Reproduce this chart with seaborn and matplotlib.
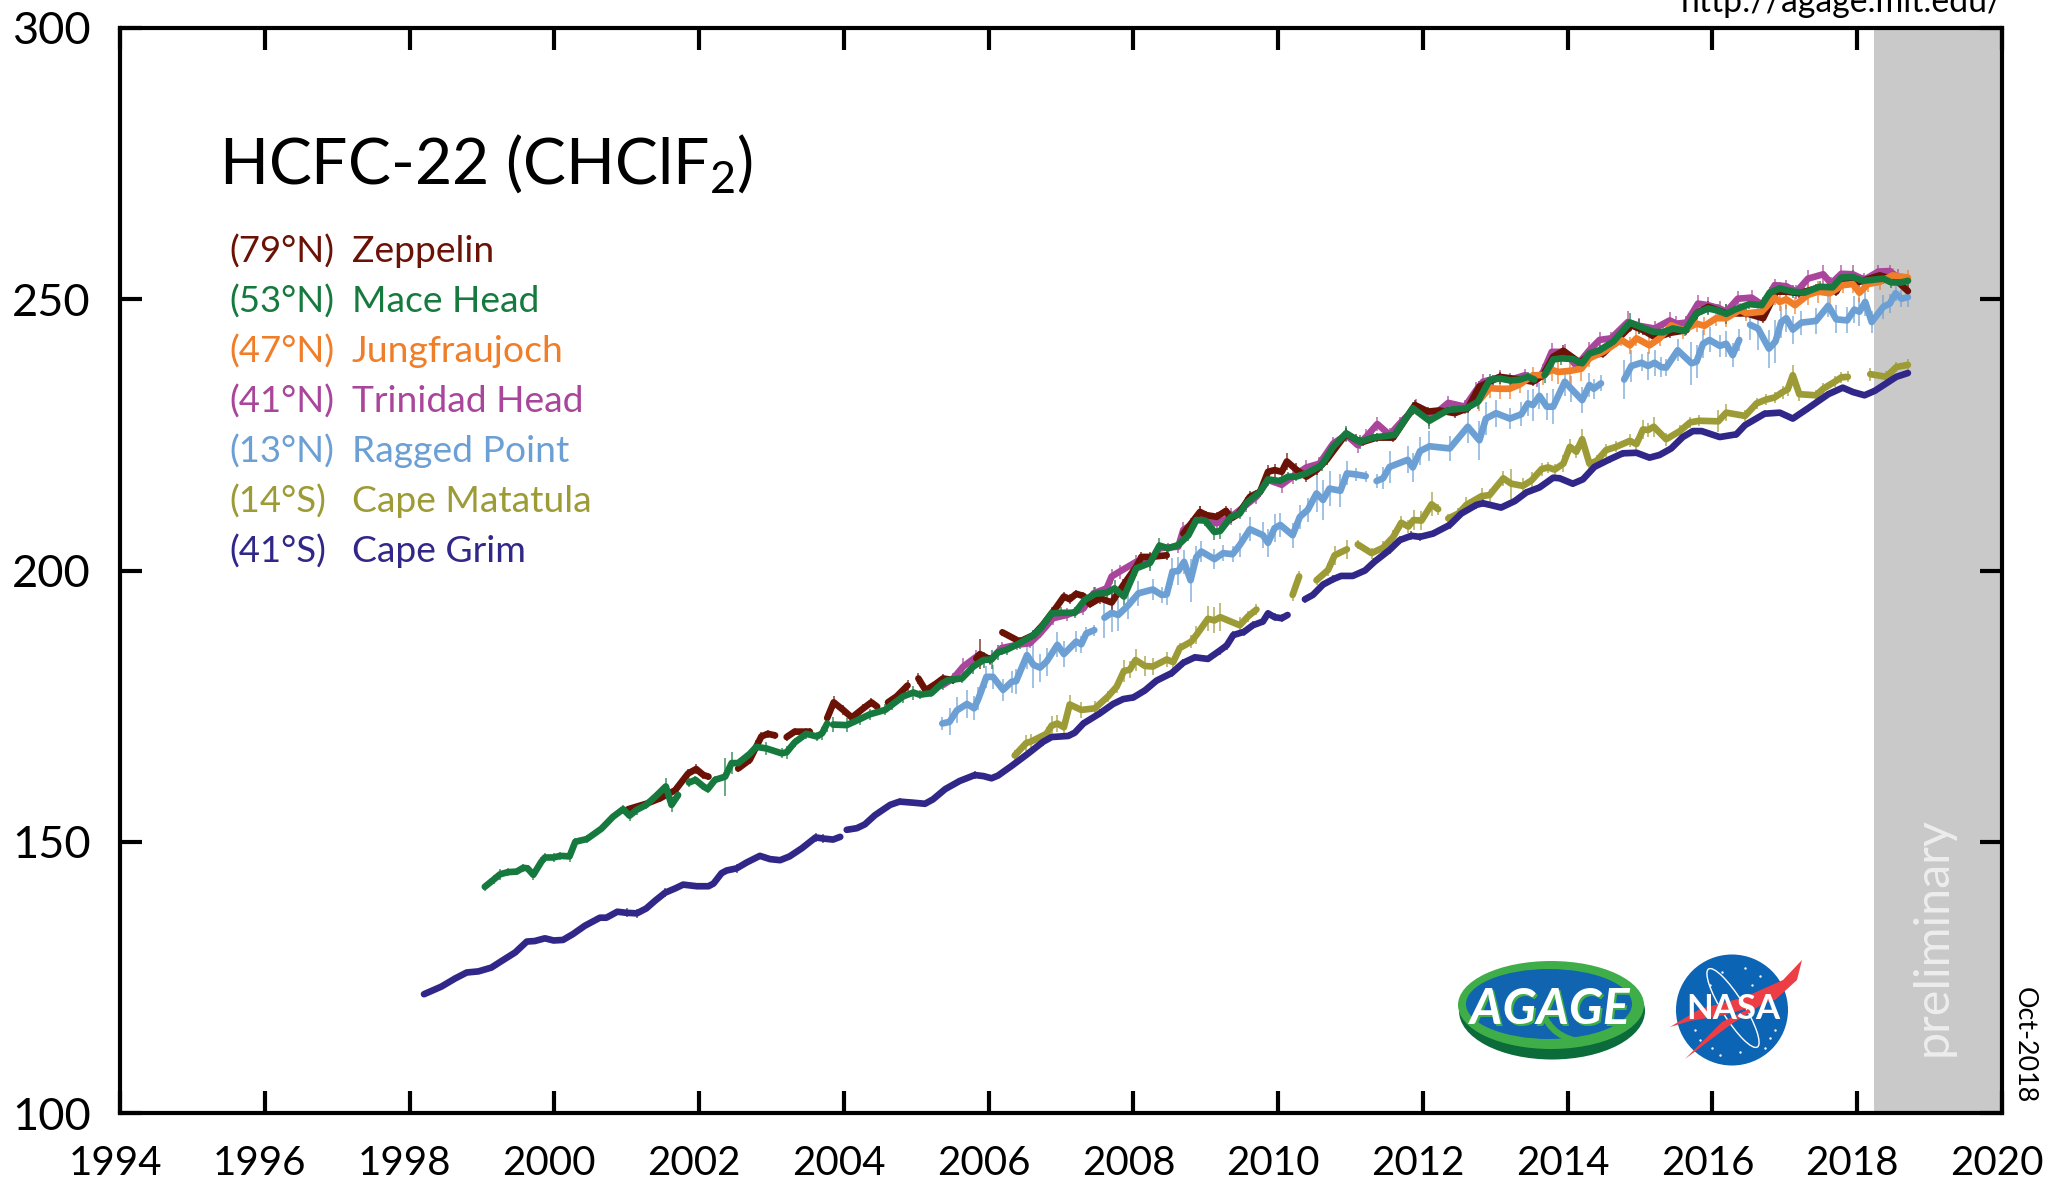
import numpy as np
import pandas as pd
import matplotlib.pyplot as plt
import seaborn as sns
from matplotlib.patches import Ellipse, Polygon, PathPatch
from matplotlib.path import Path
from matplotlib.transforms import ScaledTranslation

nan = np.nan

stations = ['Zeppelin', 'Mace Head', 'Jungfraujoch', 'Trinidad Head', 'Ragged Point', 'Cape Matatula', 'Cape Grim']
latitudes = ['(79°N)', '(53°N)', '(47°N)', '(41°N)', '(13°N)', '(14°S)', '(41°S)']
station_colors = ['#6B1206', '#167A3E', '#F07D28', '#A9459B', '#6CA0D4', '#9C9B35', '#312788']
x_ticks = [1994, 1996, 1998, 2000, 2002, 2004, 2006, 2008, 2010, 2012, 2014, 2016, 2018, 2020]
y_ticks = [100, 150, 200, 250, 300]
prelim_start = 2018.23

grim_years = [1998.2, 1998.44, 1998.63, 1998.79, 1998.95, 1999.13, 1999.27, 1999.46, 1999.62, 1999.73,
              1999.87, 1999.99, 2000.12, 2000.26, 2000.42, 2000.63, 2000.72, 2000.87, 2001.0, 2001.14,
              2001.27, 2001.39, 2001.53, 2001.67, 2001.78, 2001.97, 2002.13, 2002.2, 2002.31, 2002.38,
              2002.52, 2002.66, 2002.84, 2002.98, 2003.12, 2003.25, 2003.42, 2003.61, 2003.71, 2003.85,
              2003.95, nan, 2004.04, 2004.18, 2004.29, 2004.43, 2004.64, 2004.77, 2004.96, 2005.12,
              2005.23, 2005.4, 2005.6, 2005.81, 2005.93, 2006.04, 2006.13, 2006.32, 2006.55, 2006.75,
              2006.87, 2007.1, 2007.19, 2007.31, 2007.54, 2007.72, 2007.86, 2008.0, 2008.16, 2008.32,
              2008.53, 2008.69, 2008.85, 2009.03, 2009.19, 2009.29, 2009.38, 2009.53, 2009.65, 2009.79,
              2009.86, 2009.95, 2010.05, 2010.13, nan, 2010.37, 2010.48, 2010.62, 2010.76, 2010.87,
              2011.03, 2011.2, 2011.33, 2011.54, 2011.68, 2011.84, 2011.96, 2012.14, 2012.37, 2012.53,
              2012.74, 2012.83, 2013.08, 2013.27, 2013.43, 2013.61, 2013.8, 2013.89, 2014.07, 2014.21,
              2014.37, 2014.58, 2014.76, 2014.95, 2015.13, 2015.27, 2015.43, 2015.59, 2015.73, 2015.85,
              2016.1, 2016.33, 2016.45, 2016.72, 2016.93, 2017.11, 2017.32, 2017.6, 2017.8, 2017.94,
              2018.1, 2018.24, 2018.54, 2018.7]
grim_vals = [121.9, 123.3, 124.8, 125.9, 126.1, 126.8, 128.0, 129.6, 131.6, 131.7,
             132.2, 131.8, 131.9, 133.0, 134.5, 136.0, 136.0, 137.1, 136.9, 136.8,
             137.7, 139.1, 140.6, 141.4, 142.1, 141.8, 141.8, 142.3, 144.2, 144.7,
             145.1, 146.2, 147.4, 146.8, 146.6, 147.3, 148.8, 150.8, 150.6, 150.4,
             150.9, nan, 152.2, 152.5, 153.2, 154.9, 156.8, 157.4, 157.2, 157.0,
             157.8, 159.7, 161.2, 162.3, 162.1, 161.7, 162.2, 164.0, 166.3, 168.4,
             169.3, 169.5, 170.1, 171.8, 173.7, 175.4, 176.3, 176.6, 177.9, 179.7,
             181.1, 183.0, 184.0, 183.7, 185.2, 186.2, 188.1, 188.7, 189.9, 190.6,
             192.1, 191.4, 191.2, 191.8, nan, 194.7, 195.5, 197.4, 198.4, 199.0,
             199.0, 200.0, 201.6, 203.8, 205.6, 206.4, 206.2, 206.8, 208.4, 210.5,
             212.1, 212.4, 211.6, 212.8, 214.4, 215.3, 217.1, 217.0, 216.0, 216.8,
             219.1, 220.5, 221.6, 221.7, 220.8, 221.3, 222.5, 224.6, 225.7, 225.7,
             224.6, 225.1, 226.8, 228.9, 229.1, 228.0, 229.9, 232.5, 233.7, 232.9,
             232.3, 233.1, 235.7, 236.4]
grim_errs = [.4, .4, .4, .3, .3, .4, .4, .5, .4, .3,
             .4, .4, .3, .4, .4, .5, .4, .4, .8, .8,
             .5, .5, .8, .5, .5, .4, .4, .4, .5, .5,
             .8, .5, .4, .4, .4, .5, .5, .8, .8, .5,
             .4, nan, .4, .5, .4, .5, .5, .6, .5, .4,
             .5, .6, .6, .7, .5, .5, .5, .6, .6, .7,
             .6, .6, .5, .6, .7, .6, .6, .6, .7, .6,
             .7, .7, .6, .5, .7, .8, .7, .7, .7, .7,
             .6, .7, .7, .6, nan, .6, .6, .7, .7, .6,
             .6, .6, .7, .8, .7, .8, .7, .7, .8, .7,
             .7, .7, .5, .5, .6, .6, .5, .5, .6, .5,
             .6, .6, .6, .5, .5, .6, .5, .6, .6, .6,
             .6, .6, .6, .6, .5, .5, .6, .6, .5, .5,
             .5, .5, .5, .5]

mace_years = [1999.04, 1999.16, 1999.25, 1999.36, 1999.48, 1999.57, 1999.63, 1999.71, 1999.82, 1999.87,
              1999.99, 2000.08, 2000.21, 2000.29, 2000.45, 2000.65, 2000.81, 2000.95, 2001.04, 2001.14,
              2001.27, 2001.41, 2001.54, 2001.62, 2001.71, nan, 2001.86, 2001.95, 2002.06, 2002.12,
              2002.22, 2002.36, 2002.45, 2002.54, 2002.7, 2002.79, 2002.93, 2003.14, 2003.21, 2003.32,
              2003.48, 2003.63, 2003.7, 2003.77, nan, 2003.85, 2004.04, 2004.22, 2004.36, 2004.57,
              2004.66, 2004.82, 2004.96, 2005.05, 2005.21, 2005.35, 2005.44, 2005.63, 2005.79, 2005.93,
              2006.04, 2006.13, 2006.25, 2006.43, 2006.62, 2006.71, 2006.87, 2007.0, 2007.19, 2007.33,
              2007.47, 2007.63, 2007.74, 2007.87, 2008.04, 2008.23, 2008.36, 2008.48, 2008.62, 2008.76,
              2008.87, 2008.99, 2009.12, 2009.2, 2009.35, 2009.47, 2009.56, 2009.75, 2009.86, 2010.02,
              2010.14, 2010.25, 2010.39, 2010.6, 2010.76, 2010.94, 2011.13, 2011.31, 2011.61, 2011.86,
              2012.09, 2012.35, 2012.6, 2012.76, 2012.92, 2013.06, 2013.22, 2013.34, 2013.45, 2013.54,
              nan, 2013.68, 2013.8, 2013.91, 2014.07, 2014.2, 2014.3, 2014.44, 2014.63, 2014.86,
              2014.99, 2015.18, 2015.32, 2015.45, 2015.62, 2015.78, 2015.94, 2016.08, 2016.19, 2016.31,
              2016.51, 2016.68, 2016.79, 2016.93, 2017.11, 2017.27, 2017.48, 2017.66, 2017.78, 2017.94,
              2018.08, 2018.36, 2018.47, 2018.61, 2018.7]
mace_vals = [141.7, 143.0, 144.0, 144.4, 144.5, 145.2, 145.1, 143.9, 146.3, 147.1,
             147.1, 147.4, 147.3, 150.0, 150.5, 152.4, 154.6, 156.0, 154.8, 155.9,
             156.8, 158.5, 160.2, 156.8, 158.6, nan, 160.9, 161.4, 160.2, 159.7,
             161.4, 162.0, 164.5, 164.5, 166.2, 167.5, 167.2, 166.3, 166.5, 168.3,
             169.9, 169.4, 170.0, 171.8, nan, 171.6, 171.5, 172.6, 173.5, 174.3,
             175.2, 176.8, 177.5, 177.1, 177.4, 179.1, 179.8, 180.1, 182.3, 183.5,
             183.6, 184.9, 185.4, 186.6, 188.1, 189.2, 192.1, 192.2, 192.2, 194.6,
             195.7, 195.9, 196.7, 195.2, 200.4, 201.4, 204.6, 204.1, 204.7, 206.5,
             209.3, 209.2, 207.1, 207.3, 209.9, 210.5, 212.4, 214.5, 216.8, 216.5,
             217.3, 217.3, 217.9, 219.4, 222.8, 225.3, 223.7, 224.5, 225.0, 229.9,
             227.6, 229.6, 229.9, 231.1, 235.1, 235.4, 235.0, 235.2, 235.7, 235.2,
             nan, 236.0, 238.9, 239.1, 239.0, 238.2, 240.0, 240.6, 242.2, 245.7,
             245.0, 244.0, 243.9, 244.6, 244.2, 247.4, 248.3, 247.9, 247.3, 248.1,
             249.1, 248.9, 251.2, 252.0, 251.4, 251.2, 252.3, 252.2, 254.0, 254.1,
             253.4, 253.8, 253.1, 253.1, 253.4]
mace_errs = [.7, .8, 1.0, .8, .6, .7, .6, .9, .8, .8,
             .8, .7, 1.0, .6, .7, .6, .6, .8, .9, .9,
             .7, .7, 1.5, 1.3, .8, nan, .8, .7, .7, .8,
             .8, 3.5, 2.0, .6, .7, 1.2, 1.2, .9, 1.2, .9,
             1.0, .9, 1.2, 1.6, nan, 1.4, 1.3, 1.1, 1.0, 1.0,
             1.0, 1.2, 1.3, .8, .8, .9, .8, .9, 1.4, 1.5,
             1.7, 1.4, 1.0, 1.0, .9, .9, 1.2, 1.0, 1.0, 1.0,
             1.3, 1.3, 1.5, 1.6, 1.4, 1.4, 1.3, 1.0, 1.0, 1.0,
             1.0, 1.0, 1.5, 1.5, 1.0, 1.0, 1.2, 1.0, 1.0, .8,
             .8, .8, 1.0, 1.0, 1.2, 1.4, 1.3, .9, 1.0, 1.2,
             1.5, .9, .9, 1.4, 1.2, 1.0, 1.0, 1.0, .8, .9,
             nan, 1.5, 1.3, 1.2, .9, .9, 1.0, 1.0, 1.0, 1.8,
             1.4, 1.0, 1.0, 1.0, 1.0, 1.1, 1.2, 1.2, 1.8, 1.0,
             .9, .9, 1.1, 1.1, 1.2, 1.0, 1.0, 1.0, 1.2, 1.3,
             1.0, 1.0, 1.0, .9, .9]

zep_years = [2001.02, 2001.27, 2001.46, 2001.67, 2001.85, 2001.96, 2002.06, 2002.13, nan, 2002.54,
             2002.7, 2002.86, 2002.95, 2003.05, nan, 2003.21, 2003.32, 2003.53, nan, 2003.77,
             2003.86, 2003.99, 2004.11, 2004.27, 2004.38, 2004.46, nan, 2004.61, 2004.73, 2004.88,
             nan, 2005.03, 2005.13, 2005.28, 2005.37, 2005.51, nan, 2005.83, 2005.88, 2006.02,
             nan, 2006.19, 2006.43, 2006.62, 2006.75, 2006.94, 2007.04, 2007.12, 2007.21, 2007.31,
             2007.4, 2007.54, 2007.7, 2007.86, 2008.04, 2008.11, 2008.23, 2008.46, nan, 2008.69,
             2008.92, 2009.01, 2009.15, 2009.28, 2009.35, 2009.45, 2009.61, 2009.75, 2009.86, 2009.95,
             2010.05, 2010.12, 2010.25, 2010.39, 2010.53, 2010.67, 2010.94, 2011.08, 2011.17, 2011.36,
             2011.59, 2011.89, 2012.07, 2012.23, 2012.44, 2012.62, 2012.78, 2012.97, 2013.06, 2013.34,
             2013.52, 2013.66, 2013.8, 2013.94, 2014.17, 2014.3, 2014.49, 2014.77, 2014.88, 2015.04,
             2015.22, 2015.41, 2015.64, 2015.78, 2015.94, 2016.19, 2016.47, 2016.7, 2016.88, 2017.02,
             2017.2, 2017.43, 2017.71, 2017.8, 2018.03, 2018.31, 2018.54, 2018.7]
zep_vals = [156.0, 157.0, 158.0, 159.5, 162.6, 163.4, 162.3, 162.0, nan, 163.5,
            165.1, 169.4, 169.9, 169.6, nan, 169.3, 170.3, 170.3, nan, 172.8,
            175.7, 174.3, 172.9, 174.6, 175.7, 174.9, nan, 175.7, 176.8, 178.8,
            nan, 180.1, 177.9, 179.2, 180.1, 179.8, nan, 183.8, 184.6, 183.6,
            nan, 188.6, 186.9, 188.1, 190.0, 193.3, 195.2, 194.7, 195.7, 195.3,
            193.8, 194.9, 194.1, 197.3, 200.7, 202.5, 202.5, 202.8, nan, 206.8,
            210.8, 210.2, 209.9, 211.0, 209.6, 210.4, 213.6, 214.5, 218.2, 218.5,
            218.2, 220.1, 218.6, 217.3, 218.5, 220.4, 225.2, 224.1, 223.7, 224.5,
            224.5, 230.5, 229.3, 229.5, 229.0, 229.9, 233.9, 235.1, 235.7, 235.2,
            234.8, 236.0, 239.4, 240.5, 238.3, 239.7, 240.0, 243.7, 245.2, 244.3,
            242.9, 243.8, 244.3, 247.4, 248.6, 247.4, 247.4, 246.5, 251.4, 251.4,
            251.1, 252.0, 251.4, 253.5, 253.2, 254.4, 253.5, 251.5]
zep_errs = [.6, .6, .6, .7, .8, .9, .7, .6, nan, .7,
            .7, .8, .7, .6, nan, .8, .7, .7, nan, .8,
            1.2, .9, .8, .7, .8, .7, nan, .7, .7, 1.0,
            nan, 1.0, .7, .7, .8, .7, nan, 1.0, 2.8, .8,
            nan, .7, .8, .8, .7, .8, .8, .9, .7, .7,
            .8, 1.0, 1.8, 1.2, .9, .9, .9, .8, nan, .8,
            1.0, .8, .9, .9, .8, .8, 1.0, .9, 1.2, 1.2,
            1.2, 1.6, 1.2, 1.0, .9, .9, 1.0, 1.0, .8, .9,
            .9, 1.0, .9, .9, .9, .9, 1.0, 1.0, .8, .8,
            .8, .8, 1.0, 1.0, .8, .8, .8, 1.0, 1.0, .8,
            .8, .9, .8, .9, 1.0, .8, .8, .9, 1.0, 1.0,
            .8, .8, .8, 1.0, .9, .9, .9, .9]

jung_years = [2012.78, 2012.92, 2013.06, 2013.2, 2013.34, 2013.52, 2013.66, 2013.78, 2013.87, 2014.03,
              2014.19, 2014.3, 2014.49, 2014.74, 2014.86, 2014.95, 2015.13, 2015.27, 2015.43, 2015.59,
              2015.78, 2015.89, 2016.05, 2016.19, 2016.38, 2016.47, 2016.68, 2016.86, 2016.93, 2017.02,
              2017.14, 2017.32, 2017.46, 2017.62, 2017.8, 2017.94, 2018.03, 2018.15, 2018.31, 2018.49,
              2018.7]
jung_vals = [231.4, 233.6, 233.5, 233.5, 234.3, 236.0, 236.0, 237.0, 236.6, 236.8,
             237.2, 239.1, 240.3, 242.5, 241.5, 242.8, 241.5, 242.8, 245.2, 244.3,
             245.5, 245.1, 246.5, 246.5, 248.0, 247.4, 247.7, 250.3, 249.5, 250.0,
             248.9, 250.8, 251.4, 251.1, 252.6, 252.8, 251.2, 252.8, 253.2, 254.4,
             254.0]
jung_errs = [2.0, 1.8, 1.8, 1.8, 1.5, 1.5, 1.8, 2.0, 2.2, 2.2,
             2.2, 1.5, 1.2, 1.2, 1.5, 1.5, 1.6, 1.5, 1.4, 1.6,
             1.5, 1.6, 1.4, 1.6, 1.3, 1.5, 1.3, 1.4, 1.6, 1.8,
             1.6, 1.8, 2.0, 1.8, 1.5, 1.6, 1.7, 1.5, 1.5, 1.4,
             1.3]

trin_years = [2005.37, 2005.51, 2005.65, 2005.83, 2006.02, 2006.18, 2006.39, 2006.57, 2006.71, 2006.89,
              2007.08, 2007.31, 2007.45, 2007.63, 2007.7, 2007.81, 2008.04, 2008.23, 2008.36, 2008.62,
              2008.69, 2008.8, 2008.92, 2009.15, 2009.35, 2009.56, 2009.7, 2009.86, 2010.05, 2010.2,
              2010.39, 2010.57, 2010.76, 2010.94, 2011.1, 2011.22, 2011.37, 2011.54, 2011.68, 2011.91,
              2012.09, 2012.35, 2012.58, 2012.74, 2012.83, 2013.06, 2013.2, 2013.41, 2013.57, 2013.66,
              2013.78, 2013.96, 2014.12, 2014.3, 2014.44, 2014.6, 2014.83, 2014.99, 2015.2, 2015.41,
              2015.5, 2015.64, 2015.8, 2015.94, 2016.1, 2016.19, 2016.35, 2016.54, 2016.7, 2016.86,
              2017.02, 2017.16, 2017.32, 2017.53, 2017.64, 2017.78, 2017.94, 2018.1, 2018.29, 2018.45,
              2018.56, 2018.7]
trin_vals = [178.9, 180.1, 182.3, 184.1, 183.5, 185.7, 186.3, 186.6, 188.4, 191.2,
             191.8, 193.0, 195.8, 196.7, 198.9, 199.8, 201.6, 201.6, 204.1, 204.4,
             207.5, 208.4, 210.5, 208.7, 209.9, 212.1, 213.6, 216.7, 215.8, 217.3,
             219.0, 219.7, 223.4, 225.0, 223.1, 224.7, 227.0, 225.0, 227.1, 230.2,
             228.0, 230.9, 230.2, 233.3, 234.8, 235.6, 235.1, 236.0, 235.1, 236.6,
             240.3, 240.3, 237.7, 240.6, 242.5, 242.8, 245.8, 245.1, 244.6, 246.1,
             245.5, 245.7, 249.2, 248.9, 248.3, 247.7, 250.1, 250.3, 248.9, 252.6,
             252.4, 251.4, 253.8, 254.6, 252.9, 254.7, 254.6, 253.6, 255.1, 255.2,
             254.0, 253.5]
trin_errs = [.9, 1.0, 1.6, 1.3, 1.0, 1.2, 1.0, .9, .9, 1.2,
             1.2, 1.2, 1.2, 1.2, 1.3, 1.3, 1.2, 1.2, 1.2, 1.2,
             1.4, 1.2, 1.3, 1.5, 1.6, 1.4, 1.3, 1.2, 1.5, 1.4,
             1.3, 1.3, 1.3, 1.3, 1.5, 1.3, 1.3, 1.2, 1.2, 1.4,
             1.4, 1.3, 1.3, 1.4, 1.4, 1.3, 1.3, 1.2, 1.2, 1.4,
             1.6, 1.4, 1.2, 1.5, 1.5, 1.2, 2.0, 1.5, 1.3, 1.5,
             1.4, 1.3, 1.6, 1.6, 1.3, 1.5, 1.5, 1.4, 1.6, 1.2,
             1.2, 1.3, 1.6, 1.8, 1.2, 1.6, 1.7, 1.2, 1.3, 1.2,
             1.5, 1.0]

ragged_years = [2005.36, 2005.46, 2005.56, 2005.7, 2005.8, 2005.86, 2005.97, 2006.06, 2006.2, 2006.32,
                2006.38, 2006.53, 2006.62, 2006.71, 2006.8, 2006.95, 2007.04, 2007.21, 2007.28, 2007.35,
                2007.46, nan, 2007.6, 2007.7, 2007.79, 2007.93, 2008.07, 2008.27, 2008.39, 2008.46,
                2008.54, 2008.62, 2008.7, 2008.79, 2008.87, 2008.94, 2009.12, 2009.24, 2009.37, 2009.47,
                2009.61, 2009.79, 2009.86, 2009.95, 2010.03, 2010.2, 2010.3, 2010.41, 2010.53, 2010.62,
                2010.71, 2010.86, 2010.95, 2011.08, 2011.21, nan, 2011.36, 2011.45, 2011.54, 2011.79,
                2011.86, 2011.96, 2012.09, 2012.37, 2012.62, 2012.78, 2012.87, 2013.01, 2013.2, 2013.36,
                2013.45, 2013.52, 2013.61, 2013.71, 2013.8, 2013.96, 2014.05, 2014.2, 2014.3, 2014.36,
                2014.46, nan, 2014.78, 2014.88, 2015.02, 2015.11, 2015.2, 2015.29, 2015.36, 2015.52,
                2015.71, 2015.78, 2015.87, 2015.96, 2016.1, 2016.19, 2016.28, 2016.37, nan, 2016.52,
                2016.63, 2016.78, 2016.87, 2016.95, 2017.02, 2017.11, 2017.23, 2017.43, 2017.6, 2017.71,
                2017.86, 2017.96, 2018.03, 2018.11, 2018.2, 2018.36, 2018.45, 2018.53, 2018.61, 2018.7]
ragged_vals = [171.8, 172.1, 174.2, 175.4, 174.6, 176.4, 180.4, 180.4, 178.0, 179.5,
               179.6, 184.4, 182.6, 182.1, 183.2, 186.3, 184.6, 186.9, 186.4, 188.4,
               189.0, nan, 191.3, 192.2, 191.8, 193.6, 195.8, 196.5, 195.5, 195.6,
               199.8, 199.9, 201.6, 198.2, 202.5, 203.5, 202.1, 203.2, 203.0, 204.7,
               207.6, 206.5, 205.1, 207.8, 208.4, 206.5, 209.9, 211.2, 214.2, 213.0,
               215.1, 214.7, 217.9, 217.7, 217.4, nan, 216.5, 217.0, 219.1, 220.4,
               219.0, 222.0, 222.9, 222.5, 226.5, 224.0, 228.0, 229.0, 228.0, 228.8,
               230.8, 230.5, 232.2, 230.2, 230.2, 234.8, 233.5, 231.4, 234.2, 233.5,
               234.5, nan, 235.2, 237.7, 238.3, 237.7, 238.3, 237.5, 237.4, 240.6,
               238.2, 238.5, 241.8, 242.5, 241.4, 241.8, 239.7, 242.5, nan, 245.3,
               244.6, 240.9, 242.2, 245.8, 246.5, 244.4, 245.7, 246.0, 248.8, 246.3,
               246.1, 248.1, 247.7, 249.5, 245.8, 248.6, 249.2, 251.1, 250.1, 250.4]
ragged_errs = [1.2, 2.5, 2.4, 2.5, 2.2, 2.2, 2.0, 2.2, 2.0, 2.0,
               2.3, 2.5, 4.3, 2.6, 2.6, 2.3, 2.4, 2.0, 1.6, 1.2,
               1.0, nan, 3.8, 3.5, 2.9, 2.5, 2.3, 2.0, 1.5, 2.0,
               2.5, 2.6, 2.2, 4.0, 2.0, 2.0, 1.8, 1.5, 1.5, 2.2,
               2.2, 2.4, 2.6, 2.6, 2.2, 2.3, 2.2, 2.2, 3.5, 3.6,
               3.2, 3.0, 2.2, 1.2, 1.0, nan, 1.3, 2.0, 3.0, 2.5,
               2.6, 2.6, 2.8, 2.3, 3.0, 3.6, 3.0, 2.5, 2.0, 2.2,
               2.4, 3.0, 2.4, 2.5, 3.2, 2.6, 2.4, 2.4, 2.2, 1.8,
               1.5, nan, 3.6, 3.0, 1.6, 2.5, 2.4, 1.8, 1.6, 2.0,
               4.0, 3.0, 2.6, 2.3, 2.0, 2.4, 2.2, 2.0, nan, 2.8,
               4.0, 3.5, 4.0, 3.0, 2.5, 2.6, 2.2, 2.4, 2.0, 2.6,
               2.4, 2.5, 2.6, 2.5, 2.0, 2.2, 1.8, 1.4, 1.6, 1.8]

matatula_years = [2006.36, 2006.52, 2006.59, 2006.8, 2006.87, 2006.95, 2007.04, 2007.12, 2007.28, 2007.47,
                  2007.65, 2007.77, 2007.87, 2007.95, 2008.03, 2008.16, 2008.27, 2008.46, 2008.55, 2008.64,
                  2008.8, 2008.87, 2009.03, 2009.12, 2009.2, 2009.47, 2009.58, 2009.7, nan, 2010.2,
                  2010.29, nan, 2010.53, 2010.69, 2010.78, 2010.95, nan, 2011.1, 2011.29, 2011.45,
                  2011.59, 2011.7, 2011.8, 2011.87, 2011.98, 2012.12, 2012.21, nan, 2012.35, 2012.49,
                  2012.6, 2012.81, 2012.92, 2013.11, 2013.22, 2013.38, 2013.5, 2013.64, 2013.73, 2013.82,
                  2013.94, 2014.03, 2014.12, 2014.2, 2014.3, 2014.4, 2014.53, 2014.67, 2014.86, 2014.95,
                  2015.04, 2015.11, 2015.19, 2015.36, 2015.55, 2015.69, 2015.82, 2016.08, 2016.19, 2016.45,
                  2016.61, 2016.74, 2016.86, 2016.97, 2017.04, 2017.11, 2017.2, 2017.43, 2017.53, 2017.69,
                  2017.78, 2017.87, nan, 2018.18, 2018.4, 2018.54, 2018.7]
matatula_vals = [165.9, 168.2, 168.5, 169.9, 171.4, 171.8, 171.1, 175.3, 174.3, 174.6,
                 176.8, 178.6, 181.5, 181.7, 183.5, 182.4, 182.3, 183.6, 183.1, 185.7,
                 186.9, 188.1, 191.1, 190.8, 191.4, 189.9, 191.5, 192.8, nan, 195.5,
                 198.9, nan, 198.2, 200.1, 202.8, 203.9, nan, 204.8, 203.2, 204.2,
                 206.2, 208.8, 208.1, 209.3, 209.2, 212.2, 211.3, nan, 209.6, 210.5,
                 212.1, 213.7, 213.9, 217.0, 216.0, 215.6, 216.6, 218.7, 219.0, 218.6,
                 219.7, 222.8, 221.9, 224.2, 219.7, 220.2, 222.2, 222.8, 223.9, 223.3,
                 226.0, 225.9, 226.5, 224.2, 225.7, 227.3, 227.6, 227.5, 229.1, 228.5,
                 230.8, 231.5, 231.9, 232.9, 233.4, 236.0, 232.5, 232.3, 233.5, 234.8,
                 235.6, 235.7, nan, 236.2, 235.7, 237.5, 237.9]
matatula_errs = [1.0, 1.5, 1.4, 1.2, 1.8, 1.6, 1.2, 1.8, 1.5, 1.4,
                 1.0, 1.2, 2.0, 1.6, 2.0, 1.8, 1.5, 1.4, 1.2, 1.0,
                 1.2, 1.6, 2.3, 2.4, 2.6, 1.5, 1.0, 1.0, nan, 1.2,
                 1.0, nan, .8, 1.2, 1.8, 1.8, nan, .8, 1.0, 1.2,
                 1.2, 1.2, 1.2, 1.8, 1.8, 2.2, 1.0, nan, .8, 1.0,
                 1.4, 1.5, 1.2, 1.4, 2.8, 1.4, 1.5, 1.2, 1.0, 1.0,
                 1.6, 1.4, 1.2, 1.8, 1.0, 1.0, 1.2, 1.0, 1.2, 1.2,
                 1.8, 1.2, 1.8, 1.2, 1.2, 1.0, 1.0, 2.0, 1.6, 1.0,
                 1.0, 1.0, 1.0, 1.2, 1.2, 1.8, 1.2, 1.0, 1.0, 1.0,
                 1.0, 1.0, nan, 1.2, 1.0, 1.0, 1.0]

year_lists = [zep_years, mace_years, jung_years, trin_years, ragged_years, matatula_years, grim_years]
val_lists = [zep_vals, mace_vals, jung_vals, trin_vals, ragged_vals, matatula_vals, grim_vals]
err_lists = [zep_errs, mace_errs, jung_errs, trin_errs, ragged_errs, matatula_errs, grim_errs]

tables = []
for name, yrs, vals, errs in zip(stations, year_lists, val_lists, err_lists):
    t = pd.DataFrame({'year': yrs, 'ppt': vals})
    t['err'] = pd.Series(errs)
    t['station'] = name
    t['seg'] = t['ppt'].isna().cumsum()
    tables.append(t.dropna(subset=['ppt']))
data = pd.concat(tables, ignore_index=True)

sns.set_theme(style='ticks')
plt.rcParams['font.family'] = ['Lato', 'DejaVu Sans']
plt.rcParams['mathtext.fontset'] = 'custom'
plt.rcParams['mathtext.rm'] = 'Lato'
plt.rcParams['mathtext.default'] = 'regular'

W, H = 2045, 1181
fig = plt.figure(figsize=(W / 100, H / 100), dpi=100, facecolor='white')
ax = fig.add_axes([120 / W, 1 - 1113 / H, (2002 - 120) / W, (1113 - 28) / H])

ax.axvspan(prelim_start, 2020, color='#C9C9C9', lw=0, zorder=0)

palette = dict(zip(stations, station_colors))
draw_order = ['Ragged Point', 'Cape Matatula', 'Cape Grim', 'Trinidad Head', 'Zeppelin', 'Jungfraujoch', 'Mace Head']
for name in draw_order:
    d = data[data['station'] == name]
    ax.vlines(d['year'], d['ppt'] - d['err'], d['ppt'] + d['err'], color=palette[name], lw=1.2, alpha=0.75, zorder=1)
sns.lineplot(data=data, x='year', y='ppt', hue='station', units='seg', estimator=None, sort=False,
             hue_order=draw_order, palette=palette, linewidth=4.8, legend=False, ax=ax, zorder=2,
             solid_capstyle='round', solid_joinstyle='round')

ax.set_xlim(1994, 2020)
ax.set_ylim(100, 300)
ax.set_xticks(x_ticks)
ax.set_yticks(y_ticks)
ax.set(xlabel=None, ylabel=None)
ax.tick_params(axis='both', direction='in', length=16, width=3, top=True, right=True, colors='black')
ax.tick_params(axis='x', pad=23, labelsize=29)
ax.tick_params(axis='y', pad=21, labelsize=32.5)
for s in ax.spines.values():
    s.set_linewidth(3)
    s.set_color('black')
# year labels sit a little left of their ticks in the reference
for lab in ax.get_xticklabels():
    lab.set_transform(lab.get_transform() + ScaledTranslation(-0.05, 0, fig.dpi_scale_trans))

# overlay in reference pixels for the text and the logos
over = fig.add_axes([0, 0, 1, 1], facecolor='none')
over.set_xlim(0, W)
over.set_ylim(H, 0)
over.axis('off')

over.text(219, 184, 'HCFC-22 (CHClF$_2$)', fontsize=46.3, color='black', va='baseline')
for i in range(len(stations)):
    yy = 251.5 + i * 50
    over.text(229, yy, latitudes[i], fontsize=26.3, color=station_colors[i], va='center')
    over.text(352, yy, stations[i], fontsize=26.8, color=station_colors[i], va='center')

over.text(2003, 12, 'http://agage.mit.edu/', fontsize=24.3, color='black', ha='right', va='baseline', clip_on=False)
over.text(1933, 1056, 'preliminary', fontsize=35, color='#EDEDED', rotation=90, ha='center', va='bottom')
over.text(2024, 1045, 'Oct-2018', fontsize=19.4, color='black', rotation=270, ha='center', va='center')

# AGAGE logo
over.add_patch(Ellipse((1552, 1011), 186, 97, color='#0B6B3A', lw=0))
over.add_patch(Ellipse((1551, 1005), 186, 88, color='#3FAE49', lw=0))
over.add_patch(Ellipse((1549, 1004), 166, 70, color='#1164B0', lw=0))
swoosh = Path([(1545, 1018), (1558, 1042), (1590, 1042)], [Path.MOVETO, Path.CURVE3, Path.CURVE3])
over.add_patch(PathPatch(swoosh, fc='none', ec='#3FAE49', lw=4.5))
over.text(1552, 1026, 'AGAGE', fontsize=36, fontweight='bold', style='italic', color='#3FAE49', ha='center', va='baseline')
over.text(1550, 1024, 'AGAGE', fontsize=36, fontweight='bold', style='italic', color='white', ha='center', va='baseline')

# NASA logo
over.add_patch(Ellipse((1732, 1010), 112, 111, color='#0B64B4', lw=0))
over.add_patch(Ellipse((1733, 1008), 92, 22, angle=58, fc='none', ec='white', lw=1))
star_x = [1700, 1712, 1722, 1745, 1760, 1770, 1775, 1695, 1710, 1740, 1765, 1720, 1752]
star_y = [1040, 1048, 972, 968, 976, 1038, 1030, 1030, 985, 1052, 1048, 1055, 985]
over.scatter(star_x, star_y, s=3, color='white', lw=0)
over.add_patch(Polygon([(1802, 960), (1797, 980), (1775, 1000), (1725, 1015), (1690, 1021), (1670, 1027),
                        (1700, 1009), (1745, 997), (1783, 980)], color='#EE3E45', lw=0))
over.add_patch(Polygon([(1775, 996), (1730, 1025), (1685, 1059), (1722, 1022)], color='#EE3E45', lw=0))
over.text(1733, 1019, 'NASA', fontsize=25, fontweight='bold', color='white', ha='center', va='baseline')

fig.savefig('out.png', dpi=100)
